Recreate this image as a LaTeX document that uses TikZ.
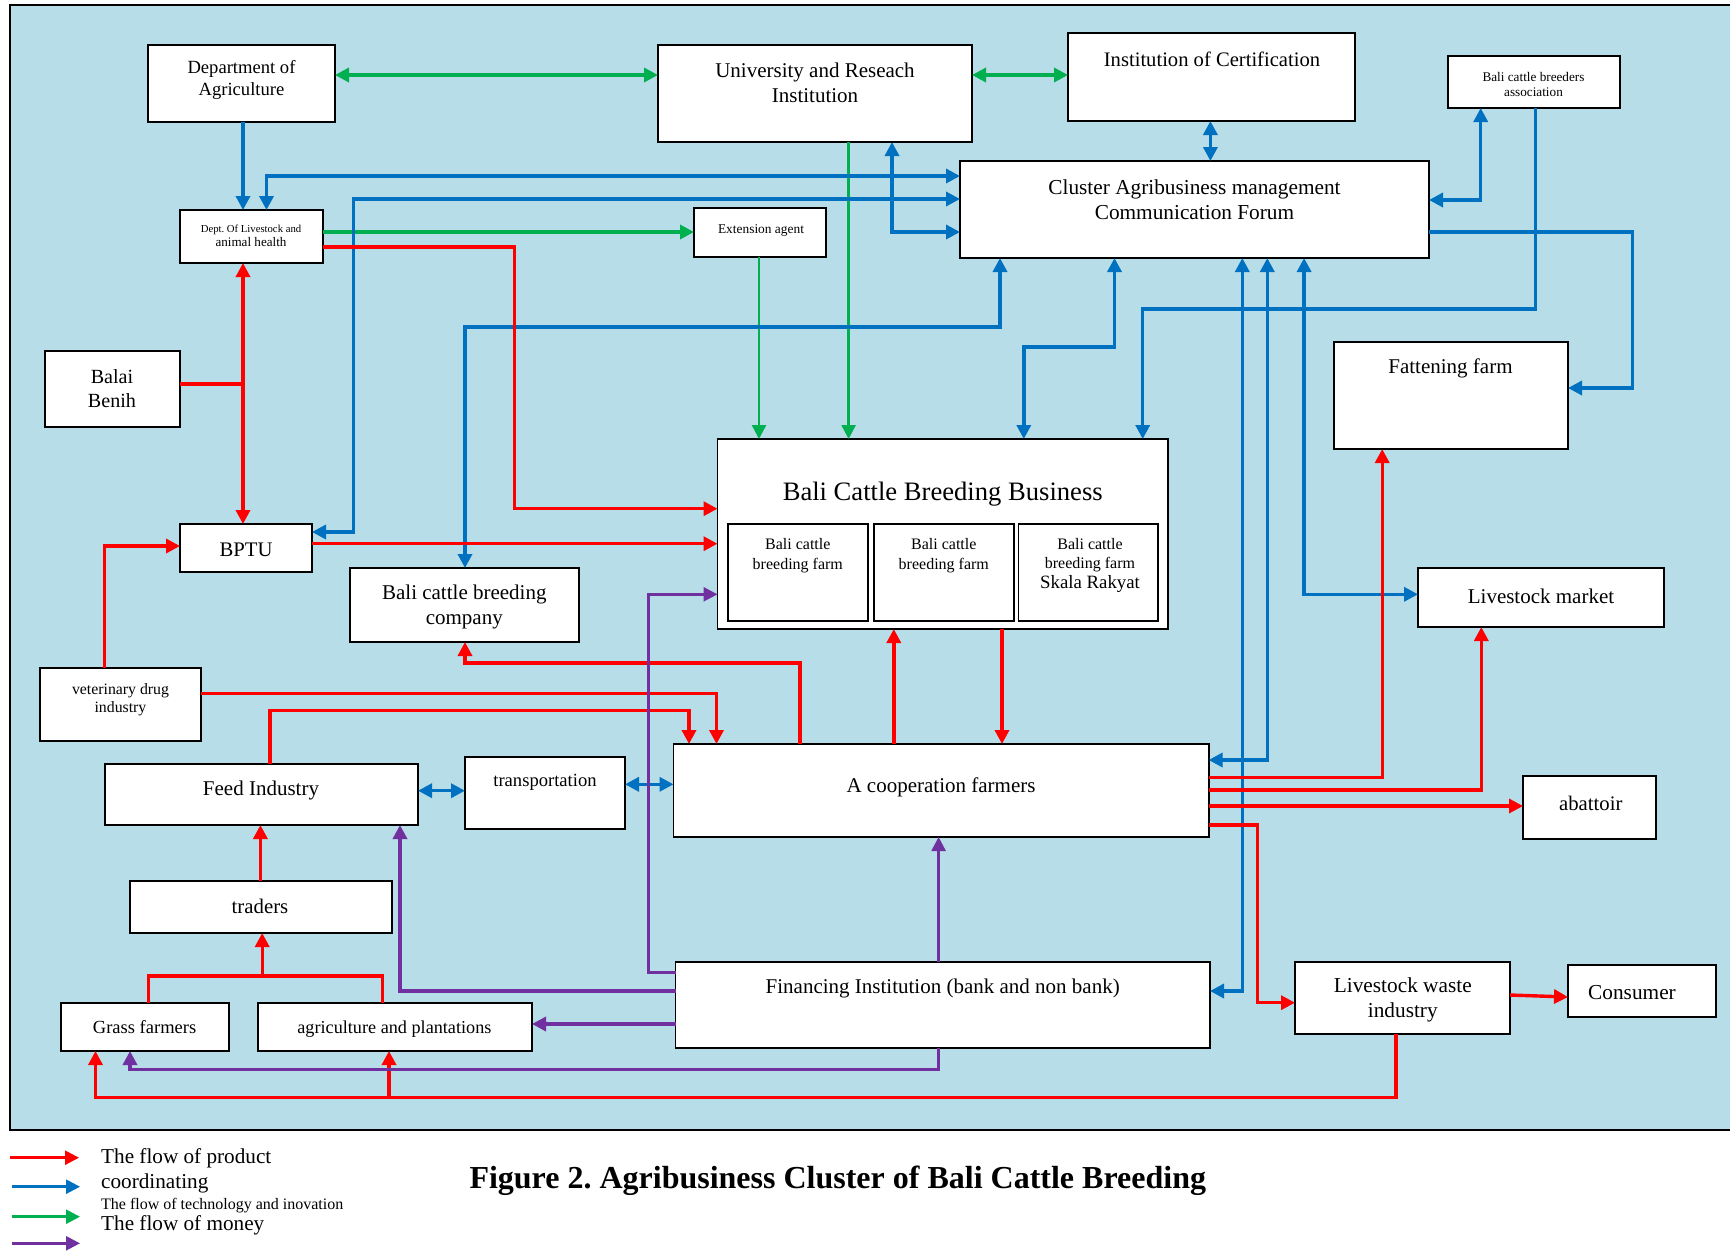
\documentclass[tikz,border=0pt]{standalone}
\usepackage{fontspec}
\setmainfont{Liberation Serif}
\usetikzlibrary{arrows.meta}
\definecolor{bg}{RGB}{183,221,232}
\definecolor{cred}{RGB}{255,0,0}
\definecolor{cblue}{RGB}{0,112,192}
\definecolor{cgreen}{RGB}{0,176,80}
\definecolor{cpurple}{RGB}{112,48,160}
\frenchspacing
\newcommand\fs[2]{\fontsize{#1}{#2}\selectfont}
% box by its corners: name, x1, y1, x2, y2
\newcommand\bx[5]{\node[box, minimum width={#4-#2}, minimum height={#5-#3}] (#1) at ({(#2+#4)/2},{(#3+#5)/2}) {};}
\begin{document}
\begin{tikzpicture}[x=1pt,y=-1pt,
  >={Triangle[length=14pt,width=14pt]},
  box/.style={draw=black, line width=1.8pt, fill=white, inner sep=0pt, outer sep=0pt},
  lbl/.style={inner sep=0pt, align=center, font=\fs{21}{25}, yshift=-2pt},
  product/.style={draw=cred, line width=3.4pt},
  coord/.style={draw=cblue, line width=3.4pt},
  tech/.style={draw=cgreen, line width=3.4pt},
  money/.style={draw=cpurple, line width=3.4pt},
  thin/.style={line width=2.5pt},
]
\useasboundingbox (0,0) rectangle (1730,1251);
\clip (0,0) rectangle (1730,1251);
\fill[white] (0,0) rectangle (1730,1251);
\draw[line width=2.5pt, fill=bg] (10,5) rectangle (1760,1130);

% ---------- boxes ----------
\bx{agri}{148}{45}{335}{122}
\bx{univ}{658}{45}{972}{142}
\bx{cert}{1068}{33}{1355}{121}
\bx{assoc}{1448}{56}{1620}{108}
\bx{dla}{180}{210}{323}{263}
\bx{ext}{694}{208}{826}{257}
\bx{forum}{960}{161}{1429}{258}
\bx{balai}{45}{351}{180}{427}
\bx{fatten}{1334}{342}{1568}{449}
\node[box, line width=1.3pt, minimum width=450.5, minimum height=190] (bus) at (942.75,534) {};
\bx{farmA}{728}{524}{867.6}{621}
\bx{farmB}{874}{524}{1013.7}{621}
\bx{farmC}{1018.5}{524}{1158.3}{621}
\bx{bptu}{180}{524}{312}{572}
\bx{company}{350}{568}{579}{642}
\bx{market}{1418}{568}{1664}{627}
\bx{vet}{40}{668}{201}{741}
\bx{feed}{105}{764}{418}{825}
\bx{transp}{465}{757}{625}{829}
\bx{coop}{673.5}{744}{1208.6}{837}
\bx{abattoir}{1523}{776}{1656}{839}
\bx{traders}{130}{881}{392}{933}
\bx{finance}{675.5}{962}{1210}{1048}
\bx{waste}{1295}{962}{1510}{1034}
\bx{consumer}{1568}{965}{1716}{1017}
\bx{grass}{60.6}{1003}{228.7}{1051}
\bx{agripl}{258}{1003}{532}{1051}

% ---------- labels ----------
\node[lbl, font=\fs{18.6}{22.7}] (agri-t) at (241.5,78) {Department of\\Agriculture};
\node[lbl] (univ-t) at (815,80.8) {University and Reseach\\Institution};
\node[lbl, font=\fs{20.6}{25}] (cert-t) at (1212,57.7) {Institution of Certification};
\node[lbl, font=\fs{13.2}{15}] (assoc-t) at (1533.5,82.5) {Bali cattle breeders\\association};
\node[lbl, font=\fs{10.7}{14}] (dla-t) at (251,233.7) {Dept. Of Livestock and\\{\fs{13.1}{14}animal health}};
\node[lbl, font=\fs{13.4}{16}] (ext-t) at (761,228.3) {Extension agent};
\node[lbl, font=\fs{21.3}{25}] (forum-t) at (1194.5,197.5) {Cluster Agribusiness management\\Communication Forum};
\node[lbl, font=\fs{20.1}{24.7}] (balai-t) at (112,386.7) {Balai\\Benih};
\node[lbl] (fatten-t) at (1450.5,366.7) {Fattening farm};
\node[lbl, font=\fs{26.6}{30}] (bus-t) at (942.7,491.7) {Bali Cattle Breeding Business};
\node[lbl, font=\fs{16}{19.3}] (farmA-t) at (797.8,553.7) {Bali cattle\\breeding farm};
\node[lbl, font=\fs{16}{19.3}] (farmB-t) at (943.8,553.7) {Bali cattle\\breeding farm};
\node[lbl, font=\fs{16}{19.3}] (farmC-t) at (1090,563.3) {Bali cattle\\breeding farm\\{\fs{18.8}{19.3}Skala Rakyat}};
\node[lbl, font=\fs{20.7}{25}] (bptu-t) at (246,548.3) {BPTU};
\node[lbl] (company-t) at (464.3,605) {Bali cattle breeding\\company};
\node[lbl] (market-t) at (1541,594.3) {Livestock market};
\node[lbl, font=\fs{15.8}{18.4}] (vet-t) at (120.5,697.5) {veterinary drug\\industry};
\node[lbl] (feed-t) at (261,788.3) {Feed Industry};
\node[lbl, font=\fs{18.6}{22}] (transp-t) at (545,780) {transportation};
\node[lbl] (coop-t) at (941,785.7) {A cooperation farmers};
\node[lbl, font=\fs{20.7}{25}] (abattoir-t) at (1590.8,801.7) {abattoir};
\node[lbl, font=\fs{20.8}{25}] (traders-t) at (260,904.5) {traders};
\node[lbl] (finance-t) at (942.7,986.7) {Financing Institution (bank and non bank)};
\node[lbl, font=\fs{21.3}{25.7}] (waste-t) at (1402.8,997.8) {Livestock waste\\industry};
\node[lbl, font=\fs{21.3}{25}] (consumer-t) at (1632,990.7) {Consumer};
\node[lbl, font=\fs{18.5}{22}] (grass-t) at (144.6,1025.5) {Grass farmers};
\node[lbl, font=\fs{18.2}{22}] (agripl-t) at (394.4,1026.7) {agriculture and plantations};

% ---------- flow of technology and innovation (green) ----------
\draw[tech,<->] (agri.east |- 0,75) -- (univ.west |- 0,75);
\draw[tech,<->] (univ.east |- 0,75) -- (cert.west |- 0,75);
\draw[tech,->] (dla.east |- 0,232) -- (ext.west |- 0,232);
\draw[tech,thin,->] (univ.south -| 848.6,0) -- (bus.north -| 848.6,0);
\draw[tech,thin,->] (ext.south -| 759,0) -- (bus.north -| 759,0);

% ---------- coordinating (blue) ----------
\draw[coord,->] (agri.south -| 243,0) -- (dla.north -| 243,0);
\draw[coord,<->] (dla.north -| 266.5,0) -- (266.5,176) -- (forum.west |- 0,176);
\draw[coord,<->] (bptu.east |- 0,532) -- (353.6,532) -- (353.6,199) -- (forum.west |- 0,199);
\draw[coord,<->] (univ.south -| 892,0) -- (892,232) -- (forum.west |- 0,232);
\draw[coord,<->] (cert.south -| 1210.4,0) -- (forum.north -| 1210.4,0);
\draw[coord,<->] (forum.south -| 1000,0) -- (1000,327) -- (465,327) -- (company.north -| 465,0);
\draw[coord,<->] (forum.south -| 1114.5,0) -- (1114.5,347) -- (1023.8,347) -- (bus.north -| 1023.8,0);
\draw[coord,<->] (assoc.south -| 1480.7,0) -- (1480.7,200) -- (forum.east |- 0,200);
\draw[coord,->] (assoc.south -| 1535.4,0) -- (1535.4,309) -- (1142.7,309) -- (bus.north -| 1142.7,0);
\draw[coord,->] (forum.east |- 0,232) -- (1632.7,232) -- (1632.7,388) -- (fatten.east |- 0,388);
\draw[coord,<->] (forum.south -| 1242.3,0) -- (1242.3,991) -- (finance.east |- 0,991);
\draw[coord,<->] (forum.south -| 1267.3,0) -- (1267.3,760) -- (coop.east |- 0,760);
\draw[coord,<->] (forum.south -| 1304.1,0) -- (1304.1,594.3) -- (market.west |- 0,594.3);
\draw[coord,<->] (feed.east |- 0,790.7) -- (transp.west |- 0,790.7);
\draw[coord,<->] (transp.east |- 0,784.3) -- (coop.west |- 0,784.3);

% ---------- flow of product (red) ----------
\coordinate (bj) at (243,384);
\draw[product] (balai.east |- bj) -- (bj);
\draw[product,->] (bj) -- (dla.south -| bj);
\draw[product,->] (bj) -- (bptu.north -| bj);
\draw[product,->] (dla.east |- 0,247) -- (514.3,247) -- (514.3,508.7) -- (bus.west |- 0,508.7);
\draw[product,->] (bptu.east |- 0,543.7) -- (bus.west |- 0,543.7);
\draw[product,->] (vet.north -| 104.7,0) -- (104.7,546) -- (bptu.west |- 0,546);
\draw[product,->] (coop.north -| 800,0) -- (800,663) -- (465,663) -- (company.south -| 465,0);
\draw[product,->] (vet.east |- 0,693.3) -- (716.5,693.3) -- (coop.north -| 716.5,0);
\draw[product,->] (feed.north -| 270,0) -- (270,710.7) -- (689,710.7) -- (coop.north -| 689,0);
\draw[product,->] (coop.north -| 893.8,0) -- (bus.south -| 893.8,0);
\draw[product,->] (bus.south -| 1002,0) -- (coop.north -| 1002,0);
\draw[product,->] (coop.east |- 0,777.3) -- (1382.2,777.3) -- (fatten.south -| 1382.2,0);
\draw[product,->] (coop.east |- 0,790) -- (1481.3,790) -- (market.south -| 1481.3,0);
\draw[product,->] (coop.east |- 0,806) -- (abattoir.west |- 0,806);
\draw[product,->] (coop.east |- 0,825) -- (1257.5,825) -- (1257.5,1002.7) -- (waste.west |- 0,1002.7);
\draw[product,->] (waste.east |- 0,995) -- (consumer.west |- 0,997);
\coordinate (wb) at (1396,1097.7);
\coordinate (rj) at (389,1097.7);
\draw[product,->] (waste.south -| wb) -- (wb) -- (95.5,1097.7) -- (grass.south -| 95.5,0);
\draw[product,->] (rj) -- (agripl.south -| rj);
\draw[product,->] (traders.north -| 260.4,0) -- (feed.south -| 260.4,0);
\coordinate (tj) at (262.2,976);
\draw[product] (grass.north -| 148.3,0) -- (148.3,976) -- (382.5,976) -- (agripl.north -| 382.5,0);
\draw[product,->] (tj) -- (traders.south -| tj);

% ---------- flow of money (purple) ----------
\draw[money,thin,->] (finance.north -| 938.6,0) -- (coop.south -| 938.6,0);
\draw[money,thin,->] (finance.west |- 0,972.7) -- (648.4,972.7) -- (648.4,594.3) -- (bus.west |- 0,594.3);
\draw[money,->] (finance.west |- 0,991) -- (400,991) -- (feed.south -| 400,0);
\draw[money,->] (finance.west |- 0,1024) -- (agripl.east |- 0,1024);
\draw[money,->] (finance.south -| 938.6,0) -- (938.6,1069.3) -- (130,1069.3) -- (grass.south -| 130,0);

% ---------- legend ----------
\coordinate (l1a) at (10,1157.7);  \coordinate (l1b) at (79,1157.7);
\coordinate (l2a) at (12,1186.7);  \coordinate (l2b) at (80,1186.7);
\coordinate (l3a) at (12,1216.7);  \coordinate (l3b) at (80,1216.7);
\coordinate (l4a) at (12,1243.3);  \coordinate (l4b) at (80,1243.3);
\draw[product,thin,->] (l1a) -- (l1b);
\draw[coord,thin,->] (l2a) -- (l2b);
\draw[tech,thin,->] (l3a) -- (l3b);
\draw[money,thin,->] (l4a) -- (l4b);
\node[lbl, anchor=west, font=\fs{21.2}{25}] (leg1) at (101,1156.7) {The flow of product};
\node[lbl, anchor=west, font=\fs{21.2}{25}] (leg2) at (101,1181.7) {coordinating};
\node[lbl, anchor=west, font=\fs{16}{19}] (leg3) at (101,1203.3) {The flow of technology and inovation};
\node[lbl, anchor=west, font=\fs{21.2}{25}] (leg4) at (101,1223.3) {The flow of money};

\node[lbl, anchor=west, font=\bfseries\fs{32}{36}] (caption) at (469.3,1179) {Figure 2. Agribusiness Cluster of Bali Cattle Breeding};
\end{tikzpicture}
\end{document}
